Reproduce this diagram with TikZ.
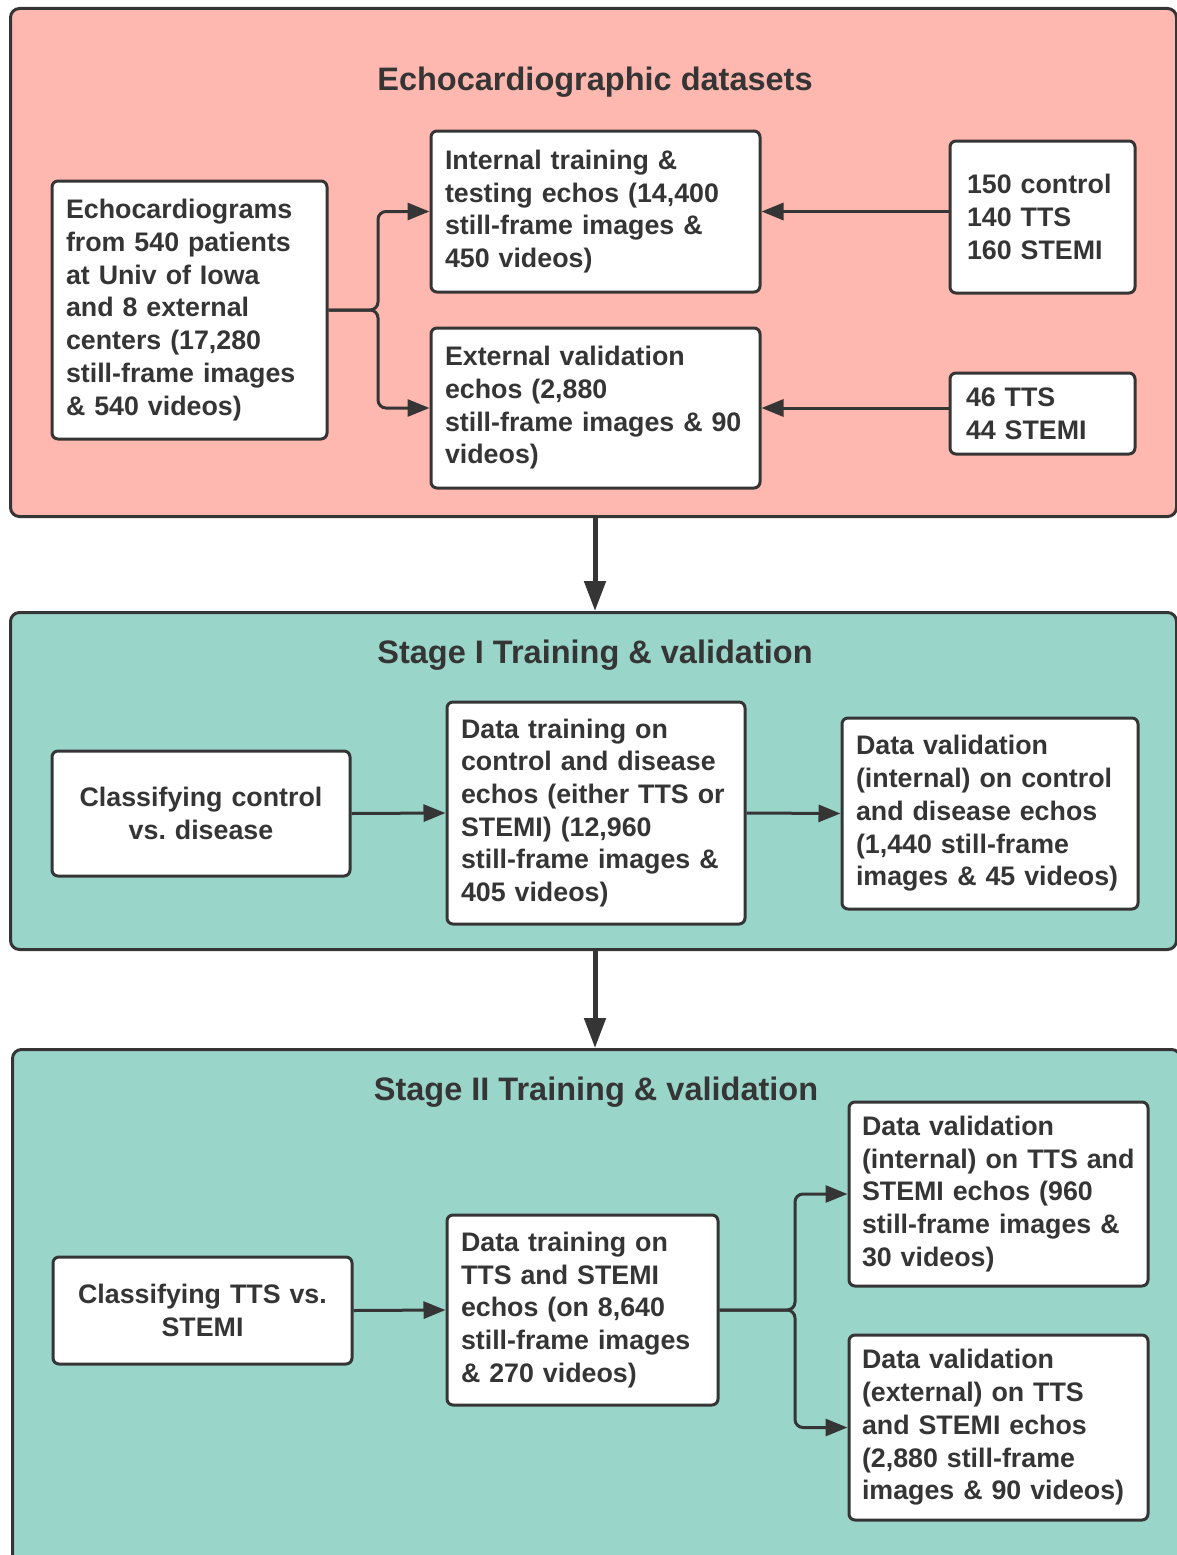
\documentclass[tikz,border=0pt]{standalone}
\usepackage{fontspec}
\setmainfont{Liberation Sans}
\usepackage{xcolor}
\usepackage{tikz}
\usetikzlibrary{arrows.meta, positioning}
\frenchspacing
\definecolor{panelred}{HTML}{FFB8B0}
\definecolor{panelteal}{HTML}{9AD5CA}
\definecolor{linegray}{HTML}{353535}
\newcommand{\boxfont}{\fontsize{26.8}{32.7}\bfseries\selectfont}
\newcommand{\headfont}{\fontsize{32.5}{38}\bfseries\selectfont}
\tikzstyle{panel} = [rectangle, draw=linegray, line width=3pt,
    rounded corners=9pt, anchor=north west, inner sep=0pt]
\tikzstyle{block} = [rectangle, draw=linegray, fill=white, line width=3pt,
    rounded corners=6pt, inner xsep=14pt, inner ysep=0pt, align=left,
    font=\boxfont, text=linegray]
\tikzstyle{heading} = [font=\headfont, text=linegray]
\tikzstyle{arrow} = [-{Triangle[length=22pt, width=17pt]}, line width=3pt,
    draw=linegray, rounded corners=8pt]
\tikzstyle{bigarrow} = [-{Triangle[length=30pt, width=21pt]}, line width=5pt,
    draw=linegray]

\begin{document}
\begin{tikzpicture}[x=1pt, y=-1pt]
    \useasboundingbox (0,0) rectangle (1177,1555);

    % Panels
    \node[panel, fill=panelred, minimum width=1166pt, minimum height=508pt] (datasets) at (9,7) {};
    \node[panel, fill=panelteal, minimum width=1166pt, minimum height=337pt] (stageone) at (9,611) {};
    \node[panel, fill=panelteal, minimum width=1168pt, minimum height=530pt] (stagetwo) at (11,1048) {};

    \node[heading] (head1) at (595,82) {Echocardiographic datasets};
    \node[heading] (head2) at (595,655) {Stage I Training \& validation};
    \node[heading] (head3) at (596,1092) {Stage II Training \& validation};

    % Datasets
    \node[block, text width=247pt, minimum height=258pt] (echo) at (189.5,310)
        {Echocardiograms\\from 540 patients\\at Univ of Iowa\\and 8 external\\centers (17,280\\still-frame images\\\& 540 videos)};
    \node[block, text width=301pt, minimum height=161pt] (internal) at (595.5,211.5)
        {Internal training \&\\testing echos (14,400\\still-frame images \&\\450 videos)};
    \node[block, text width=301pt, minimum height=160pt] (external) at (595.5,408)
        {External validation\\echos (2,880\\still-frame images \& 90\\videos)};
    \node[block, minimum height=152pt, inner xsep=17pt, text width=151pt] (ctrl) at (1042.5,217)
        {150 control\\140 TTS\\160 STEMI};
    \node[block, minimum height=81pt, inner xsep=16pt, text width=153pt] (extcount) at (1042.5,413.5)
        {46 TTS\\44 STEMI};

    \coordinate (fork1) at (378,310);
    \draw[arrow] (echo.east) -- (fork1) |- (internal.west);
    \draw[arrow] (echo.east) -- (fork1) |- (external.west);
    \draw[arrow] (ctrl.west |- internal.east) -- (internal.east);
    \draw[arrow] (extcount.west |- external.east) -- (external.east);

    % Stage I
    \node[block, align=center, text width=270pt, minimum height=125pt] (classctrl) at (201,813.5)
        {Classifying control\\vs. disease};
    \node[block, text width=270pt, minimum height=222pt] (trainone) at (596,813)
        {Data training on\\control and disease\\echos (either TTS or\\STEMI) (12,960\\still-frame images \&\\405 videos)};
    \node[block, text width=268pt, minimum height=191pt] (valone) at (990,813.5)
        {Data validation\\(internal) on control\\and disease echos\\(1,440 still-frame\\images \& 45 videos)};

    \draw[arrow] (classctrl.east) -- (trainone.west);
    \draw[arrow] (trainone.east) -- (valone.west);

    % Stage II
    \node[block, align=center, text width=271pt, minimum height=107pt] (classtts) at (202.5,1310.5)
        {Classifying TTS vs.\\STEMI};
    \node[block, text width=243pt, minimum height=190pt] (traintwo) at (582.5,1310)
        {Data training on\\TTS and STEMI\\echos (on 8,640\\still-frame images\\\& 270 videos)};
    \node[block, inner xsep=13pt, text width=273pt, minimum height=184pt] (valint) at (998.5,1194)
        {Data validation\\(internal) on TTS and\\STEMI echos (960\\still-frame images \&\\30 videos)};
    \node[block, inner xsep=13pt, text width=273pt, minimum height=185pt] (valext) at (998.5,1427.5)
        {Data validation\\(external) on TTS\\and STEMI echos\\(2,880 still-frame\\images \& 90 videos)};

    \coordinate (fork2) at (795,1310);
    \draw[arrow] (classtts.east) -- (traintwo.west);
    \draw[arrow] (traintwo.east) -- (fork2) |- (valint.west);
    \draw[arrow] (traintwo.east) -- (fork2) |- (valext.west);

    % Between panels
    \draw[bigarrow] (head1 |- datasets.south) -- (head1 |- stageone.north);
    \draw[bigarrow] (head1 |- stageone.south) -- (head1 |- stagetwo.north);
\end{tikzpicture}
\end{document}
